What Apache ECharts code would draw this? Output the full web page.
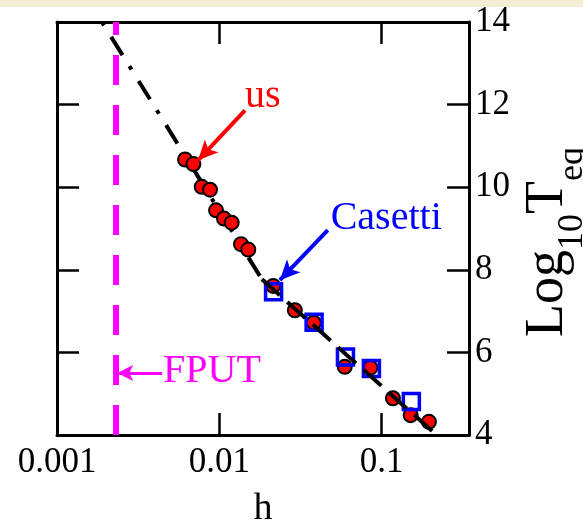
<!DOCTYPE html>
<html>
<head>
<meta charset="utf-8">
<title>Log10 Teq vs h</title>
<script src="https://cdn.jsdelivr.net/npm/echarts@6/dist/echarts.min.js"></script>
<style>
  html, body { margin: 0; padding: 0; background: #fff; }
  #chart { width: 583px; height: 526px; }
</style>
</head>
<body>
<div id="chart"></div>
<script>
const font = 'Liberation Serif'

// x ticks (log axis) and y ticks
const xTickValues = [0.001, 0.01, 0.1]
const xTickLabels = ['0.001', '0.01', '0.1']
const yTicks = [4, 6, 8, 10, 12, 14]

// "us" points
const usH = [0.00615, 0.00692, 0.00779, 0.00876, 0.00954, 0.01068, 0.01191, 0.01359, 0.01507,
  0.02146, 0.02918, 0.03818, 0.05923, 0.08521, 0.1173, 0.1508, 0.1954]
const usLogT = [10.67, 10.56, 10.01, 9.94, 9.44, 9.24, 9.14, 8.62, 8.49,
  7.61, 7.02, 6.72, 5.65, 5.63, 4.89, 4.48, 4.32]

// Casetti points
const casettiH = [0.02158, 0.03835, 0.05983, 0.08644, 0.1523]
const casettiLogT = [7.47, 6.73, 5.89, 5.61, 4.81]

// fit line (upper dash-dot part, lower part)
const fitUpperH = [0.001891, 0.01829]
const fitUpperLogT = [14, 7.77]
const fitLowerH = [0.01829, 0.2067]
const fitLowerLogT = [7.77, 4.08]

// FPUT threshold
const fputH = 0.00231

const zip = (xs, ys) => xs.map((x, i) => [x, ys[i]])

const chart = echarts.init(document.getElementById('chart'), null, { renderer: 'canvas' })

const xBase = {
  type: 'log',
  min: xTickValues[0],
  max: 0.345,
  axisLine: { show: true, lineStyle: { color: '#000', width: 3 } },
  axisTick: { show: true, inside: true, length: 22, lineStyle: { color: '#000', width: 2.5 } },
  splitLine: { show: false },
  minorTick: { show: false }
}
const yBase = {
  type: 'value',
  min: yTicks[0],
  max: yTicks[yTicks.length - 1],
  interval: yTicks[1] - yTicks[0],
  axisLine: { show: true, lineStyle: { color: '#000', width: 3 } },
  axisTick: { show: true, inside: true, length: 22, lineStyle: { color: '#000', width: 2.5 } },
  splitLine: { show: false }
}

function xLabel(v) {
  for (let i = 0; i < xTickValues.length; i++) {
    if (Math.abs(Math.log10(v) - Math.log10(xTickValues[i])) < 1e-6) return xTickLabels[i]
  }
  return ''
}

chart.setOption({
  animation: false,
  backgroundColor: '#fff',
  textStyle: { fontFamily: font },
  graphic: [{
    type: 'rect',
    left: 0,
    top: 0,
    shape: { width: 583, height: 7 },
    style: { fill: '#f4eed5' }
  }],
  grid: { left: 57, right: 114, top: 22, bottom: 91, outerBoundsMode: 'none', containLabel: false },
  xAxis: [
    Object.assign({}, xBase, {
      position: 'bottom',
      name: 'h',
      nameLocation: 'middle',
      nameGap: 55,
      nameTextStyle: { fontFamily: font, fontSize: 38, color: '#000' },
      axisLabel: {
        show: true, margin: 10, fontFamily: font, fontSize: 35, color: '#000',
        showMaxLabel: false, formatter: xLabel
      }
    }),
    Object.assign({}, xBase, {
      position: 'top',
      axisLabel: { show: false }
    })
  ],
  yAxis: [
    Object.assign({}, yBase, {
      position: 'right',
      name: '{a|Log}{s|10}{a|T}{s|eq}',
      nameLocation: 'middle',
      nameGap: 19,
      nameTextStyle: {
        fontFamily: font,
        color: '#000',
        padding: [0, 27, 0, 0],
        rich: {
          a: { fontFamily: font, fontSize: 54, lineHeight: 86, color: '#000' },
          s: { fontFamily: font, fontSize: 36, lineHeight: 36, verticalAlign: 'bottom', color: '#000' }
        }
      },
      axisLabel: { show: true, margin: 6, fontFamily: font, fontSize: 35, color: '#000' }
    }),
    Object.assign({}, yBase, {
      position: 'left',
      axisLabel: { show: false }
    })
  ],
  series: [
    {
      name: 'FPUT',
      type: 'line',
      data: [[fputH, yTicks[0]], [fputH, yTicks[yTicks.length - 1]]],
      symbol: 'none',
      z: 1,
      lineStyle: { color: '#ff00ff', width: 6, type: [30, 20] },
      markLine: {
        silent: true,
        symbol: ['none', 'arrow'],
        symbolSize: [12, 16],
        label: { show: false },
        lineStyle: { color: '#ff00ff', width: 3, type: 'solid' },
        data: [[{ coord: [0.004441, 5.5] }, { coord: [0.002349, 5.5] }]]
      },
      markPoint: {
        silent: true,
        symbol: 'circle',
        symbolSize: 1,
        itemStyle: { color: 'rgba(0,0,0,0)' },
        label: { show: true, position: 'inside', formatter: 'FPUT', fontFamily: font, fontSize: 40, color: '#ff00ff' },
        data: [{ coord: [0.009013, 5.54] }]
      }
    },
    {
      name: 'fit',
      type: 'line',
      data: zip(fitUpperH, fitUpperLogT),
      symbol: 'none',
      z: 2,
      lineStyle: { color: '#000', width: 4, type: [4, 13.5, 21.5, 13], cap: 'butt' }
    },
    {
      name: 'us',
      type: 'scatter',
      data: zip(usH, usLogT),
      symbol: 'circle',
      symbolSize: 14,
      z: 3,
      itemStyle: { color: '#ff0000', borderColor: '#000', borderWidth: 2, opacity: 1 },
      markLine: {
        silent: true,
        symbol: ['none', 'arrow'],
        symbolSize: [14, 20],
        label: { show: false },
        lineStyle: { color: '#ff0000', width: 4, type: 'solid' },
        data: [[{ coord: [0.01438, 11.86] }, { coord: [0.00739, 10.65] }]]
      },
      markPoint: {
        silent: true,
        symbol: 'circle',
        symbolSize: 1,
        itemStyle: { color: 'rgba(0,0,0,0)' },
        label: { show: true, position: 'inside', formatter: 'us', fontFamily: font, fontSize: 40, color: '#ff0000' },
        data: [{ coord: [0.01855, 12.19] }]
      }
    },
    {
      name: 'Casetti',
      type: 'scatter',
      data: zip(casettiH, casettiLogT),
      symbol: 'rect',
      symbolSize: 16,
      z: 4,
      itemStyle: { color: 'rgba(0,0,0,0)', borderColor: '#0000ff', borderWidth: 3.5, opacity: 1 },
      markLine: {
        silent: true,
        symbol: ['none', 'arrow'],
        symbolSize: [14, 20],
        label: { show: false },
        lineStyle: { color: '#0000ff', width: 4, type: 'solid' },
        data: [[{ coord: [0.04656, 8.96] }, { coord: [0.0236, 7.75] }]]
      },
      markPoint: {
        silent: true,
        symbol: 'circle',
        symbolSize: 1,
        itemStyle: { color: 'rgba(0,0,0,0)' },
        label: { show: true, position: 'inside', formatter: 'Casetti', fontFamily: font, fontSize: 40, color: '#0000ff' },
        data: [{ coord: [0.1066, 9.24] }]
      }
    },
    {
      name: 'fit lower',
      type: 'line',
      data: zip(fitLowerH, fitLowerLogT),
      symbol: 'none',
      z: 5,
      lineStyle: { color: '#000', width: 4, type: [24, 10], cap: 'butt' }
    }
  ]
})
</script>
</body>
</html>
